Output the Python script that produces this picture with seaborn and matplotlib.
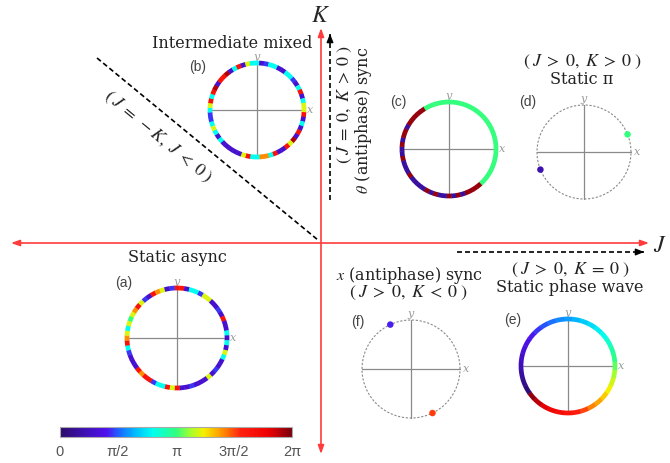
import numpy as np
import pandas as pd
import matplotlib as mpl
import matplotlib.pyplot as plt
import seaborn as sns
from matplotlib.collections import LineCollection
from matplotlib.colors import LinearSegmentedColormap, Normalize

sns.set_style("white")
plt.rcParams['font.family'] = ['DejaVu Serif']
plt.rcParams['mathtext.fontset'] = 'stix'

# phase colour of each arc segment (units of pi), segments go clockwise from the top
phase_a = [1.65, 1.65, 0.3, 0.8, 0.8, 0.45, 1.2, 1.2, 0.3, 0.3, 0.45, 0.3, 1.65, 0.3, 0.3, 0.8,
           0.3, 0.8, 0.3, 1.2, 0.8, 0.3, 0.3, 0.45, 0.3, 1.2, 0.3, 0.3, 0.3, 0.45, 0.3, 0.3,
           1.65, 1.2, 1.65, 0.8, 0.8, 0.45, 1.65, 1.65, 1.4, 1.65, 0.3, 0.3, 0.3, 0.45, 0.8, 1.65,
           1.4, 1.2, 0.8, 1.2, 1.0, 1.2, 1.4, 1.65, 1.2, 0.45, 0.3, 1.65, 1.4, 1.2, 0.3, 0.45]
phase_b = [0.8, 0.3, 0.45, 0.8, 0.8, 0.3, 0.3, 0.8, 0.8, 0.45, 0.3, 0.8, 1.65, 0.3, 0.8, 1.2,
           1.2, 1.65, 0.3, 0.8, 0.3, 1.65, 0.3, 1.9, 1.2, 1.65, 0.3, 0.3, 1.65, 0.8, 1.4, 1.4,
           0.8, 0.8, 1.65, 1.2, 0.3, 0.3, 0.3, 0.3, 0.3, 0.8, 0.3, 0.8, 1.2, 0.8, 0.45, 0.45,
           0.8, 1.2, 1.65, 0.8, 1.65, 1.9, 0.3, 1.65, 1.65, 1.9, 0.3, 0.8, 1.65, 0.3, 1.2, 0.8]
phase_c = [1.0, 1.0, 1.0, 1.0, 1.0, 1.0, 1.0, 1.0, 1.0, 1.0, 1.0, 1.0, 1.0, 1.0, 1.0, 1.0,
           1.0, 1.0, 1.0, 1.0, 1.0, 1.0, 1.0, 1.0, 1.0, 1.95, 1.95, 1.95, 1.95, 0.15, 1.95, 0.15,
           1.95, 0.15, 0.15, 1.95, 0.15, 1.95, 0.15, 0.15, 0.15, 0.15, 1.95, 0.15, 0.15, 0.15, 1.95, 0.15,
           0.15, 1.95, 0.15, 1.95, 1.95, 0.15, 1.95, 1.95, 1.95, 1.95, 1.95, 1.0, 1.0, 1.0, 1.0, 1.0]
phase_e = [0.60, 0.64, 0.68, 0.72, 0.76, 0.81, 0.87, 0.93, 0.99, 1.05, 1.12, 1.18,
           1.24, 1.30, 1.36, 1.42, 1.50, 1.58, 1.64, 1.70, 1.76, 1.82, 1.88, 1.96,
           0.04, 0.10, 0.16, 0.22, 0.28, 0.33, 0.37, 0.41, 0.45, 0.49, 0.53, 0.57]

# single clusters: angle on the circle (deg) and phase (units of pi)
dots_d_angle = [22, 202]
dots_d_phase = [1.0, 0.2]
dots_f_angle = [115, 296]
dots_f_phase = [0.42, 1.52]

cbar_ticks = [0, 0.5, 1, 1.5, 2]
cbar_labels = ['0', 'π/2', 'π', '3π/2', '2π']

cmap = LinearSegmentedColormap.from_list('phase', [
    (0.0, '#2c0c6a'), (0.1, '#3d10b0'), (0.2, '#5010ee'), (0.25, '#2060ff'),
    (0.32, '#00b8ff'), (0.4, '#00fff0'), (0.5, '#30ff80'), (0.56, '#a0ff30'),
    (0.62, '#f5f000'), (0.7, '#ff9000'), (0.78, '#ff2010'), (0.9, '#ee0000'),
    (1.0, '#7a0010')])
norm = Normalize(0, 2)

RED = '#ff3b3b'
GRAY = '#8a8a8a'
TXT = '#222222'

fig = plt.figure(figsize=(6.7, 4.63), dpi=100)
ax = fig.add_axes([0, 0, 1, 1])


def ring(cx, cy, r, phases, lw=3.4):
    n = len(phases)
    step = 2 * np.pi / n
    segs = []
    for i in range(n):
        mid = np.pi / 2 - i * step
        t = np.linspace(mid - step / 2 - 0.004, mid + step / 2 + 0.004, 6)
        segs.append(np.column_stack([cx + r * np.cos(t), cy - r * np.sin(t)]))
    ax.add_collection(LineCollection(segs, colors=cmap(norm(np.array(phases))),
                                     linewidths=lw, capstyle='butt', zorder=3))


def frame(cx, cy, r, label, lx, ly, dashed=False):
    ax.plot([cx - r, cx + r], [cy, cy], color=GRAY, lw=0.9, zorder=2)
    ax.plot([cx, cx], [cy - r, cy + r], color=GRAY, lw=0.9, zorder=2)
    ax.text(cx + r + 3, cy, 'x', style='italic', color='#999999', fontsize=8,
            ha='left', va='center')
    ax.text(cx, cy - r - 1, 'y', style='italic', color='#999999', fontsize=8,
            ha='center', va='bottom')
    ax.text(lx, ly, label, family='Liberation Sans', color='#444444', fontsize=10,
            ha='center', va='center')
    if dashed:
        t = np.linspace(0, 2 * np.pi, 200)
        ax.plot(cx + r * np.cos(t), cy - r * np.sin(t), color=GRAY, lw=0.8,
                ls=(0, (2, 1.5)), zorder=2)


def dots(cx, cy, r, angles, phases):
    a = np.radians(angles)
    df = pd.DataFrame({'x': cx + r * np.cos(a), 'y': cy - r * np.sin(a), 'phase': phases})
    sns.scatterplot(data=df, x='x', y='y', hue='phase', palette=cmap, hue_norm=norm,
                    s=22, edgecolor='none', legend=False, ax=ax, zorder=4)


# main axes (J, K)
ax.annotate('', xy=(649, 243), xytext=(11, 243),
            arrowprops=dict(arrowstyle='<|-|>,head_length=0.5,head_width=0.18',
                            color=RED, lw=1.2, shrinkA=0, shrinkB=0))
ax.annotate('', xy=(321, 28), xytext=(321, 454),
            arrowprops=dict(arrowstyle='<|-|>,head_length=0.5,head_width=0.18',
                            color=RED, lw=1.2, shrinkA=0, shrinkB=0))
ax.text(321, 16, '$K$', fontsize=17, ha='center', va='center')
ax.text(660, 245, '$J$', fontsize=17, ha='center', va='center')

# phase boundaries
ax.plot([97, 318], [58, 240], color='k', lw=1.2, ls=(0, (3, 1.8)))
ax.plot([330, 330], [200, 38], color='k', lw=1.2, ls=(0, (3, 1.8)))
ax.annotate('', xy=(330, 31), xytext=(330, 38),
            arrowprops=dict(arrowstyle='-|>,head_length=0.5,head_width=0.2', color='k', lw=1))
ax.plot([457, 640], [252, 252], color='k', lw=1.2, ls=(0, (3, 1.8)))
ax.annotate('', xy=(647, 252), xytext=(640, 252),
            arrowprops=dict(arrowstyle='-|>,head_length=0.5,head_width=0.2', color='k', lw=1))

ax.text(158, 137, r'$(\;J\;=\;-K,\;J\;<\;0\;)$', fontsize=13, rotation=-39.5, color=TXT,
        ha='center', va='center', rotation_mode='anchor')
ax.text(345, 105, r'$(\;J\;=\;0,\;K\;>\;0\;)$', fontsize=13, rotation=90, color=TXT,
        ha='center', va='center', rotation_mode='anchor')
ax.text(363, 120, r'$\theta$ (antiphase) sync', fontsize=11.5, rotation=90, color=TXT,
        ha='center', va='center', rotation_mode='anchor')

# (b) intermediate mixed
ax.text(232, 43, 'Intermediate mixed', fontsize=11.5, color=TXT, ha='center', va='center')
frame(257, 110, 47, '(b)', 198, 67)
ring(257, 110, 47, phase_b)

# (c) theta antiphase sync
frame(449, 149, 47, '(c)', 398, 102)
ring(449, 149, 47, phase_c)

# (d) static pi
ax.text(582, 62, r'$(\;J\;>\;0,\;K\;>\;0\;)$', fontsize=13, color=TXT, ha='center', va='center')
ax.text(582, 80, 'Static π', fontsize=11.5, color=TXT, ha='center', va='center')
frame(584, 152, 47, '(d)', 528, 102, dashed=True)
dots(584, 152, 47, dots_d_angle, dots_d_phase)

# (a) static async
ax.text(177, 258, 'Static async', fontsize=11.5, color=TXT, ha='center', va='center')
frame(177, 338, 50, '(a)', 124, 283)
ring(177, 338, 50, phase_a)

# (f) x antiphase sync
ax.text(410, 275, r'$x$ (antiphase) sync', fontsize=11.5, color=TXT, ha='center', va='center')
ax.text(408, 293, r'$(\;J\;>\;0,\;K\;<\;0\;)$', fontsize=13, color=TXT, ha='center', va='center')
frame(411, 369, 49, '(f)', 358, 322, dashed=True)
dots(411, 369, 49, dots_f_angle, dots_f_phase)

# (e) static phase wave
ax.text(570, 270, r'$(\;J\;>\;0,\;K\;=\;0\;)$', fontsize=13, color=TXT, ha='center', va='center')
ax.text(570, 288, 'Static phase wave', fontsize=11.5, color=TXT, ha='center', va='center')
frame(568, 366, 47, '(e)', 513, 320)
ring(568, 366, 47, phase_e)

ax.set_xlim(0, 670)
ax.set_ylim(463, 0)
ax.set_xlabel('')
ax.set_ylabel('')
ax.axis('off')

# colour bar
cax = fig.add_axes([60 / 670, (463 - 437) / 463, 232 / 670, 10 / 463])
cb = mpl.colorbar.ColorbarBase(cax, cmap=cmap, norm=norm, orientation='horizontal',
                               ticks=cbar_ticks)
cb.ax.set_xticklabels(cbar_labels, family='Liberation Sans', fontsize=10.5,
                      color='#555555')
cb.ax.tick_params(length=0, pad=6)
cb.outline.set_edgecolor('#aaaaaa')
cb.outline.set_linewidth(0.8)

fig.savefig('out.png', dpi=100)
